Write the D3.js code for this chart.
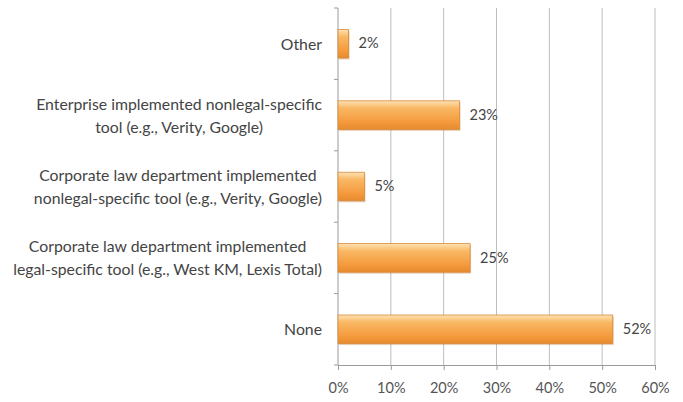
<!DOCTYPE html>
<html>
<head>
<meta charset="utf-8">
<script src="https://cdn.jsdelivr.net/npm/d3@7"></script>
<style>
  body { margin: 0; background: #fff; }
  text { font-family: Lato, "Open Sans", sans-serif; }
</style>
</head>
<body>
<script>
// data
var categories = [
  ["Other"],
  ["Enterprise implemented nonlegal-specific", "tool (e.g., Verity, Google)"],
  ["Corporate law department implemented", "nonlegal-specific tool (e.g., Verity, Google)"],
  ["Corporate law department implemented", "legal-specific tool (e.g., West KM, Lexis Total)"],
  ["None"]
];
var values = [2, 23, 5, 25, 52];
var ticks = [0, 10, 20, 30, 40, 50, 60];

var width = 683, height = 402;
var plotLeft = 338, plotRight = 655, plotTop = 8, plotBottom = 365;

var svg = d3.select("body").append("svg")
  .attr("width", width).attr("height", height);

var defs = svg.append("defs");
var grad = defs.append("linearGradient").attr("id", "barGrad")
  .attr("x1", 0).attr("y1", 0).attr("x2", 0).attr("y2", 1);
grad.append("stop").attr("offset", "0%").attr("stop-color", "#fde3b4");
grad.append("stop").attr("offset", "25%").attr("stop-color", "#f9b865");
grad.append("stop").attr("offset", "75%").attr("stop-color", "#f49a3c");
grad.append("stop").attr("offset", "100%").attr("stop-color", "#e58a2e");

var x = d3.scaleLinear().domain([0, 60]).range([plotLeft, plotRight]);
var y = d3.scaleBand().domain(d3.range(categories.length))
  .range([plotTop, plotBottom]).paddingInner(0.6).paddingOuter(0.3);

// gridlines
svg.append("g").selectAll("line.grid").data(ticks.slice(1)).enter().append("line")
  .attr("class", "grid")
  .attr("x1", d => x(d)).attr("x2", d => x(d))
  .attr("y1", plotTop).attr("y2", plotBottom)
  .attr("stroke", "#bdbdbd").attr("stroke-width", 1);

// x axis
var xAxis = svg.append("g").attr("transform", "translate(0," + plotBottom + ")")
  .call(d3.axisBottom(x).tickValues(ticks).tickFormat(d => d + "%").tickSize(5).tickPadding(13));
xAxis.select(".domain").attr("stroke", "#9a9a9a");
xAxis.selectAll(".tick line").attr("stroke", "#9a9a9a");
xAxis.selectAll("text").attr("fill", "#555").attr("font-size", "14.5px")
  .style("font-family", "Lato, 'Open Sans', sans-serif");

// y axis line with band ticks
var step = (plotBottom - plotTop) / categories.length;
svg.append("line").attr("x1", plotLeft).attr("x2", plotLeft).attr("y1", plotTop).attr("y2", plotBottom)
  .attr("stroke", "#9a9a9a");
svg.append("g").selectAll("line.ytick").data(d3.range(categories.length + 1)).enter().append("line")
  .attr("class", "ytick")
  .attr("x1", plotLeft - 4).attr("x2", plotLeft)
  .attr("y1", d => plotTop + d * step).attr("y2", d => plotTop + d * step)
  .attr("stroke", "#9a9a9a");

// bars
var bars = svg.append("g").selectAll("g.bar").data(values).enter().append("g").attr("class", "bar");
bars.append("rect")
  .attr("x", x(0) + 1).attr("y", (d, i) => y(i) + 1.5)
  .attr("width", d => x(d) - x(0)).attr("height", y.bandwidth())
  .attr("fill", "#b8732c").attr("opacity", 0.35);
bars.append("rect")
  .attr("x", x(0)).attr("y", (d, i) => y(i))
  .attr("width", d => x(d) - x(0)).attr("height", y.bandwidth())
  .attr("fill", "url(#barGrad)")
  .attr("stroke", "#d98a3a").attr("stroke-width", 0.8);

// value labels
bars.append("text")
  .text(d => d + "%")
  .attr("x", d => x(d) + 10)
  .attr("y", (d, i) => y(i) + y.bandwidth() / 2 + 1)
  .attr("dominant-baseline", "middle")
  .attr("font-size", "14.5px").attr("fill", "#444");

// category labels, centered lines, right aligned block
var labelRight = 322;
var lineH = 23;
categories.forEach(function(lines, i) {
  var t = svg.append("text").attr("font-size", "15.8px").attr("fill", "#444")
    .attr("text-anchor", "middle");
  var spans = t.selectAll("tspan").data(lines).enter().append("tspan").text(d => d);
  var maxW = 0;
  spans.each(function() { maxW = Math.max(maxW, this.getComputedTextLength()); });
  var cx = labelRight - maxW / 2;
  var cy = y(i) + y.bandwidth() / 2 + 2;
  spans.attr("x", cx)
    .attr("y", (d, j) => cy + (j - (lines.length - 1) / 2) * lineH)
    .attr("dominant-baseline", "middle");
});
</script>
</body>
</html>
